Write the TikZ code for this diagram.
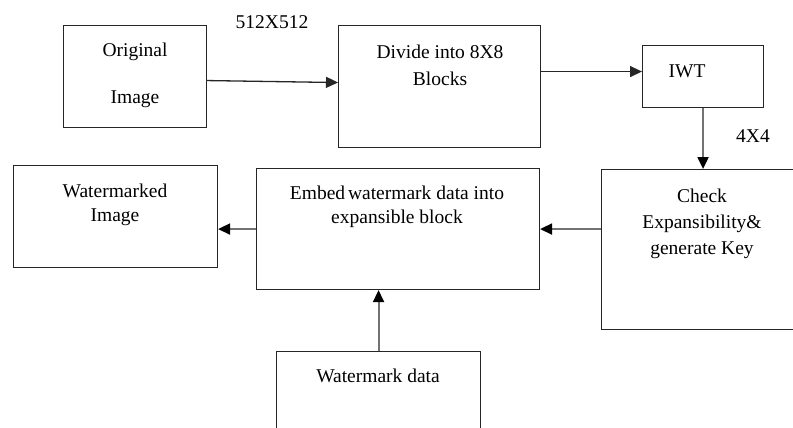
\documentclass[tikz,border=0pt]{standalone}
\usepackage{fontspec}
\setmainfont{Liberation Serif}
\newfontfamily\diagfont{Liberation Serif}
\usetikzlibrary{arrows.meta}

\begin{document}
\begin{tikzpicture}[x=1pt,y=-1pt]

\tikzstyle{blockbox} = [draw=black!85, line width=1.1pt, inner sep=0pt, anchor=north west]
\tikzstyle{ptlabel} = [anchor=center, color=black, font=\diagfont\fontsize{19.5}{23}\selectfont, inner sep=0pt]
\tikzstyle{flow} = [draw=black!85, line width=1.3pt, -{Triangle[length=12pt,width=11pt]}]
\tikzstyle{flowgray} = [flow, draw=black!55, line width=2pt, -{Triangle[length=12pt,width=11pt,color=black]}]

\useasboundingbox (0,0) rectangle (793,428);
\clip (0,0) rectangle (793,428);

% boxes
\node[blockbox, minimum width=143pt, minimum height=102pt, at={(63,25)}] (orig) {};
\node[blockbox, minimum width=202pt, minimum height=122pt, at={(338,25)}] (divide) {};
\node[blockbox, minimum width=121pt, minimum height=62pt, at={(642,45)}] (iwt) {};
\node[blockbox, minimum width=210pt, minimum height=160pt, at={(601,169)}] (check) {};
\node[blockbox, minimum width=283pt, minimum height=121pt, at={(256,168)}] (embed) {};
\node[blockbox, minimum width=204pt, minimum height=102pt, at={(13,165)}] (wmimg) {};
\node[blockbox, minimum width=204pt, minimum height=100pt, at={(276,351)}] (wmdata) {};

% texts
\node[at={(135,52)}, ptlabel] (t1) {Original};
\node[at={(135,99)}, ptlabel] (t2) {Image};
\node[at={(440,52)}, ptlabel] (t3) {Divide into 8X8};
\node[at={(440,79)}, ptlabel] (t4) {Blocks};
\node[at={(687,71)}, ptlabel] (t5) {IWT};
\node[at={(702,196)}, ptlabel] (t6) {Check};
\node[at={(702,224)}, ptlabel] (t7) {Expansibility\&};
\node[at={(702,250)}, ptlabel] (t8) {generate Key};
\node[at={(397,193)}, ptlabel] (t9) {Embed\hspace{-2pt} watermark data into};
\node[at={(397,219)}, ptlabel] (t10) {expansible block};
\node[at={(115,191)}, ptlabel] (t11) {Watermarked};
\node[at={(115,217)}, ptlabel] (t12) {Image};
\node[at={(378,376)}, ptlabel] (t13) {Watermark data};
\node[at={(272,22)}, ptlabel] (s1) {512X512};
\node[at={(753,136)}, ptlabel] (s2) {4X4};

% connectors
\coordinate (a1) at ([yshift=5pt]iwt.west);
\draw[flow] ([yshift=-4pt]orig.east) -- ([yshift=4pt]divide.west);
\draw[flow] (divide.east |- a1) -- (a1);
\draw[flowgray] (iwt.south) -- (iwt.south |- check.north);
\draw[flowgray] (check.west |- embed.east) -- (embed.east);
\draw[flowgray] (embed.west) -- (embed.west -| wmimg.east);
\draw[flowgray] (wmdata.north) -- (wmdata.north |- embed.south);

\end{tikzpicture}
\end{document}
